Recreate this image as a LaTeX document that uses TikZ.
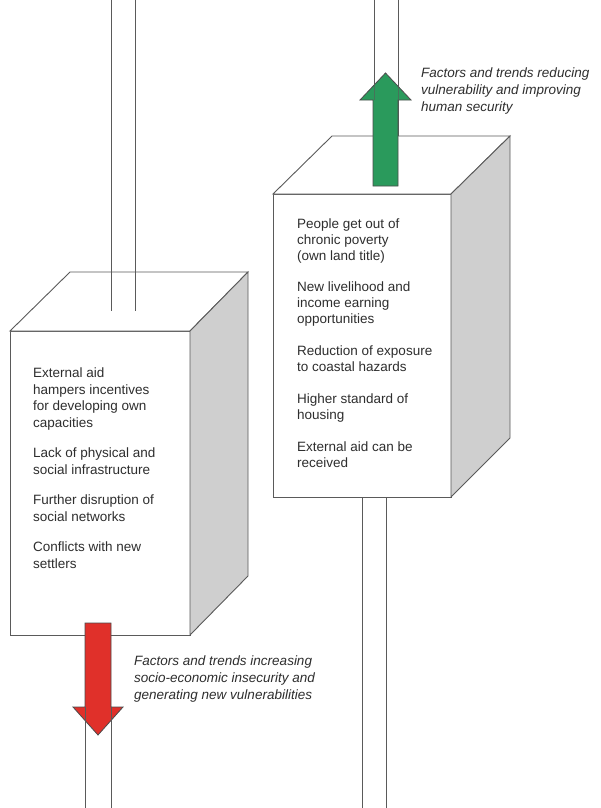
\documentclass[tikz,border=0pt]{standalone}
\usepackage{fontspec}
\setmainfont{Liberation Sans}
\definecolor{linegray}{HTML}{5A5A5A}
\definecolor{sidegray}{HTML}{CFCFCF}
\definecolor{textgray}{HTML}{2E2E2E}
\definecolor{upgreen}{HTML}{2A9A5C}
\definecolor{downred}{HTML}{E0302A}
\begin{document}
\begin{tikzpicture}[x=1pt,y=-1pt,
  edge/.style={draw=linegray, line width=0.9pt, line join=miter},
  face/.style={edge, fill=white},
  side/.style={edge, fill=sidegray},
  wire/.style={draw=linegray, line width=0.9pt},
  faintwire/.style={draw=linegray, line width=0.7pt, opacity=0.6},
  arrowshape/.style={draw=black!70, line width=0.8pt, line join=miter},
  txt/.style={anchor=north west, align=left, inner sep=0pt, text=textgray, font=\fontsize{13.5}{16.5}\selectfont},
  rtxt/.style={txt, font=\fontsize{13.5}{16}\selectfont},
  lbl/.style={txt, font=\itshape\fontsize{13.5}{16.6}\selectfont},
]
\useasboundingbox[fill=white] (0,0) rectangle (600,808);

% ---------- left box ----------
\coordinate (L1) at (10,331);
\coordinate (L2) at (190,331);
\coordinate (L3) at (190,635);
\coordinate (L4) at (10,635);
\coordinate (L5) at (70,272);
\coordinate (L6) at (248,272);
\coordinate (L7) at (248,576);
\filldraw[face] (L4) -- (L1) -- (L2) -- (L3) -- cycle;
\filldraw[face] (L1) -- (L5) -- (L6) -- (L2) -- cycle;
\filldraw[side] (L2) -- (L6) -- (L7) -- (L3) -- cycle;

% wires above left box
\coordinate (lwa0) at (111,0);  \coordinate (lwa1) at (111,311);
\coordinate (lwb0) at (135,0);  \coordinate (lwb1) at (135,311);
\draw[wire] (lwa0) -- (lwa1);
\draw[wire] (lwb0) -- (lwb1);

% red arrow (down)
\filldraw[arrowshape, fill=downred] (85,623) -- (85,707) -- (73,707) -- (98,735) -- (123,707) -- (111,707) -- (111,623) -- cycle;

% wires below left box
\coordinate (lwc0) at (85,707);  \coordinate (lwc1) at (85,808);
\coordinate (lwd0) at (111,707); \coordinate (lwd1) at (111,808);
\draw[wire] (lwc0) -- (lwc1);
\draw[wire] (lwd0) -- (lwd1);
\draw[faintwire] (85,707) -- (85,735);
\draw[faintwire] (111,707) -- (111,735);

% ---------- right box ----------
\coordinate (rwa0) at (374,0);  \coordinate (rwa1) at (374,136);
\coordinate (rwb0) at (398,0);  \coordinate (rwb1) at (398,136);
\draw[wire] (rwa0) -- (rwa1);
\draw[wire] (rwb0) -- (rwb1);

\coordinate (R1) at (273,194);
\coordinate (R2) at (451,194);
\coordinate (R3) at (451,497);
\coordinate (R4) at (273,497);
\coordinate (R5) at (332,136);
\coordinate (R6) at (510,136);
\coordinate (R7) at (510,438);
\filldraw[face] (R4) -- (R1) -- (R2) -- (R3) -- cycle;
\filldraw[face] (R1) -- (R5) -- (R6) -- (R2) -- cycle;
\filldraw[side] (R2) -- (R6) -- (R7) -- (R3) -- cycle;

% green arrow (up)
\filldraw[arrowshape, fill=upgreen] (373,186) -- (373,100) -- (360,100) -- (385.5,73) -- (411,100) -- (398,100) -- (398,186) -- cycle;
\draw[faintwire] (374,73) -- (374,100);
\draw[faintwire] (398,73) -- (398,100);

% wires below right box
\coordinate (rwc0) at (362,497); \coordinate (rwc1) at (362,808);
\coordinate (rwd0) at (386,497); \coordinate (rwd1) at (386,808);
\draw[wire] (rwc0) -- (rwc1);
\draw[wire] (rwd0) -- (rwd1);

% ---------- texts ----------
\node[txt] (ltext) at (33,368) {External aid\\hampers incentives\\for developing own\\capacities\\[14pt]Lack of physical and\\social infrastructure\\[14pt]Further disruption of\\social networks\\[14pt]Conflicts with new\\settlers};

\node[rtxt] (rtext) at (297,219) {People get out of\\chronic poverty\\(own land title)\\[15pt]New livelihood and\\income earning\\opportunities\\[16pt]Reduction of exposure\\to coastal hazards\\[16pt]Higher standard of\\housing\\[16pt]External aid can be\\received};

\node[lbl] (uplabel) at (421,68) {Factors and trends reducing\\vulnerability and improving\\human security};

\node[lbl] (downlabel) at (134,656) {Factors and trends increasing\\socio-economic insecurity and\\generating new vulnerabilities};
\end{tikzpicture}
\end{document}
